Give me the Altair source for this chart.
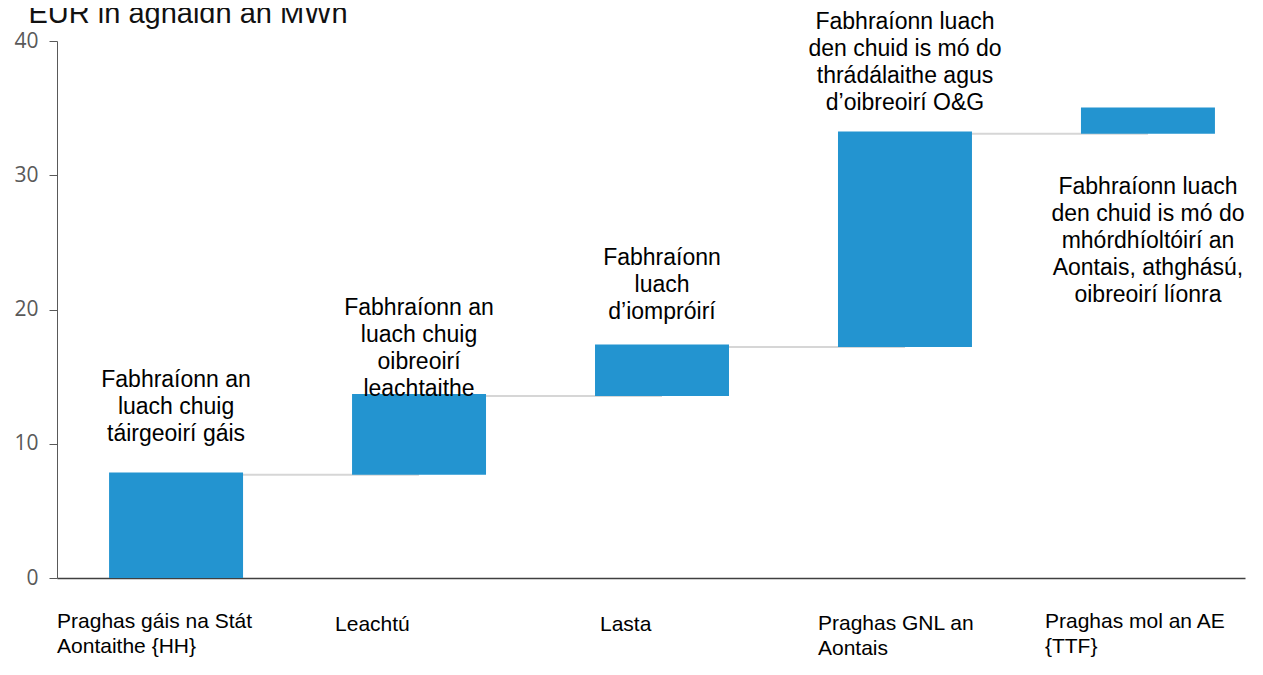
import altair as alt
import pandas as pd

categories = ["Praghas gáis na Stát Aontaithe {HH}", "Leachtú", "Lasta",
              "Praghas GNL an Aontais", "Praghas mol an AE {TTF}"]
cat_labels = ["Praghas gáis na Stát\nAontaithe {HH}", "Leachtú", "Lasta",
              "Praghas GNL an\nAontais", "Praghas mol an AE\n{TTF}"]
bar_start = [0.0, 7.7, 13.55, 17.2, 33.1]
bar_end = [7.85, 13.7, 17.4, 33.25, 35.05]
notes = [
    "Fabhraíonn an\nluach chuig\ntáirgeoirí gáis",
    "Fabhraíonn an\nluach chuig\noibreoirí\nleachtaithe",
    "Fabhraíonn\nluach\nd’iompróirí",
    "Fabhraíonn luach\nden chuid is mó do\nthrádálaithe agus\nd’oibreoirí O&G",
    "Fabhraíonn luach\nden chuid is mó do\nmhórdhíoltóirí an\nAontais, athghású,\noibreoirí líonra",
]
# level (EUR/MWh) of the first line of each note
note_level = [14.75, 20.11, 23.84, 41.42, 29.12]
y_ticks = [0, 10, 20, 30, 40]
y_title = "EUR in aghaidh an MWh"

df_bars = pd.DataFrame({"cat": categories, "start": bar_start, "end": bar_end,
                        "note": notes, "note_level": note_level, "label": cat_labels})
df_conn = pd.DataFrame({"cat": categories[:-1], "next": categories[1:], "level": bar_start[1:]})

FONT = "Liberation Sans, Arial, sans-serif"

x_scale = alt.Scale(domain=categories, paddingInner=0.4486, paddingOuter=0.169, align=0.634)
x_axis = alt.Axis(labels=False, ticks=False, title=None, domainColor="#404040", domainWidth=1.5, grid=False)
y_scale = alt.Scale(domain=[0, 40], nice=False, zero=True)
y_axis = alt.Axis(values=y_ticks, grid=False, tickSize=8, tickColor="#595959", domainColor="#595959",
                  labelColor="#595959", labelFont="Open Sans", labelFontSize=21, labelPadding=11,
                  title=y_title, titleAngle=0, titleAlign="left", titleBaseline="alphabetic",
                  titleX=-29, titleY=-19, titleFont=FONT, titleFontSize=29, titleFontWeight="normal",
                  titleColor="#111111")


def xe(field="cat"):
    return alt.X(f"{field}:N", scale=x_scale, axis=x_axis, title=None)


conn = alt.Chart(df_conn).mark_rule(color="#d6d6d6", strokeWidth=2).encode(
    x=xe(), x2="next:N",
    y=alt.Y("level:Q", scale=y_scale, axis=y_axis))

bars = alt.Chart(df_bars).mark_bar(color="#2394d0").encode(
    x=xe(),
    y=alt.Y("start:Q", scale=y_scale, axis=y_axis), y2="end:Q")

ann = alt.Chart(df_bars).mark_text(align="center", baseline="middle", fontSize=23, lineHeight=27,
                                   lineBreak="\n", font=FONT, color="#000000").encode(
    x=xe(),
    y=alt.Y("note_level:Q", scale=y_scale, axis=y_axis),
    text="note:N")

label_offsets = [(-119, 0), (-84, 3), (-62, 3), (-87, 2), (-103, 0)]
label_layers = []
for i, (dx, dy) in enumerate(label_offsets):
    label_layers.append(
        alt.Chart(df_bars.iloc[i:i + 1]).mark_text(
            align="left", baseline="top", dx=dx, dy=dy, fontSize=21, lineHeight=25,
            lineBreak="\n", font=FONT, color="#000000").encode(
            x=xe(), y=alt.value(570), text="label:N"))

chart = alt.layer(conn, bars, ann, *label_layers).properties(
    width=1188, height=537,
    autosize=alt.AutoSizeParams(type="none"),
    padding={"left": 49, "top": 33, "right": 10, "bottom": 84},
    background="white",
).configure_view(stroke=None)

chart.save("out.html", embed_options={"renderer": "svg", "actions": False})
